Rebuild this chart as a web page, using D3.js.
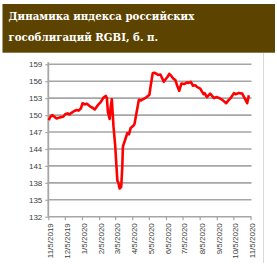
<!DOCTYPE html>
<html>
<head>
<meta charset="utf-8">
<script src="https://cdn.jsdelivr.net/npm/d3@7"></script>
<style>
  html, body { margin: 0; padding: 0; background: #fff; }
  svg { display: block; }
</style>
</head>
<body>
<div id="chart"></div>
<script>
// заголовок
const titleLines = ['Динамика индекса российских', 'гособлигаций RGBI, б. п.']

// подписи осей
const yTicks = [132, 135, 138, 141, 144, 147, 150, 153, 156, 159]
const xTicks = ['11/5/2019', '12/5/2019', '1/5/2020', '2/5/2020', '3/5/2020', '4/5/2020',
  '5/5/2020', '6/5/2020', '7/5/2020', '8/5/2020', '9/5/2020', '10/5/2020', '11/5/2020']

// значения индекса
const dates = [
  '2019-11-06', '2019-11-08', '2019-11-12', '2019-11-15', '2019-11-20', '2019-11-26',
  '2019-12-02', '2019-12-06', '2019-12-10', '2019-12-13', '2019-12-17', '2019-12-20',
  '2019-12-26', '2019-12-30', '2020-01-03', '2020-01-06', '2020-01-10', '2020-01-14',
  '2020-01-20', '2020-01-24', '2020-01-28', '2020-02-03', '2020-02-07', '2020-02-13',
  '2020-02-17', '2020-02-19', '2020-02-21', '2020-02-24', '2020-02-26', '2020-02-28',
  '2020-03-02', '2020-03-05', '2020-03-09', '2020-03-11', '2020-03-13', '2020-03-16',
  '2020-03-18', '2020-03-19', '2020-03-24', '2020-03-27', '2020-03-30', '2020-04-02',
  '2020-04-07', '2020-04-09', '2020-04-13', '2020-04-17', '2020-04-21', '2020-04-24',
  '2020-04-30', '2020-05-06', '2020-05-08', '2020-05-12', '2020-05-15', '2020-05-19',
  '2020-05-22', '2020-05-26', '2020-06-01', '2020-06-04', '2020-06-08', '2020-06-11',
  '2020-06-15', '2020-06-18', '2020-06-22', '2020-06-25', '2020-06-29', '2020-07-03',
  '2020-07-08', '2020-07-13', '2020-07-16', '2020-07-20', '2020-07-24', '2020-07-28',
  '2020-07-31', '2020-08-06', '2020-08-12', '2020-08-14', '2020-08-18', '2020-08-24',
  '2020-08-31', '2020-09-04', '2020-09-09', '2020-09-15', '2020-09-22', '2020-09-25',
  '2020-09-30', '2020-10-06', '2020-10-09', '2020-10-15', '2020-10-21', '2020-10-27',
  '2020-10-30', '2020-11-02'
]
const values = [
  149.1, 149.6, 150.0, 149.8, 149.4, 149.6,
  149.7, 150.2, 150.3, 150.1, 150.4, 150.6,
  150.9, 150.8, 151.2, 152.1, 151.9, 152.0,
  151.5, 151.3, 151.0, 151.8, 152.2, 153.1,
  153.4, 153.0, 150.5, 149.3, 151.5, 152.8,
  148.0, 144.7, 138.4, 138.0, 137.0, 137.3,
  140.9, 144.4, 145.9, 146.8, 146.6, 147.7,
  148.1, 148.4, 150.6, 152.7, 152.6, 152.8,
  153.1, 153.6, 155.0, 157.4, 157.5, 157.3,
  157.1, 157.2, 155.9, 156.3, 156.8, 157.3,
  156.9, 156.5, 156.2, 155.3, 154.3, 155.6,
  155.5, 155.8, 155.7, 155.9, 155.2, 155.3,
  155.0, 154.7, 153.7, 153.9, 153.2, 153.8,
  153.0, 153.2, 153.05, 152.7, 152.1, 152.5,
  153.0, 153.9, 153.7, 153.9, 153.8, 152.7,
  152.1, 153.5
]

const width = 277
const height = 265
const parseIso = d3.timeParse('%Y-%m-%d')
const parseTick = d3.timeParse('%m/%d/%Y')

const svg = d3.select('#chart')
  .append('svg')
  .attr('width', width)
  .attr('height', height)

// коричневая плашка заголовка
svg.append('rect')
  .attr('x', 2.5)
  .attr('y', 4)
  .attr('width', 272.5)
  .attr('height', 48.7)
  .attr('fill', '#5c4300')

const title = svg.append('g')
  .selectAll('text')
  .data(titleLines)
  .enter()
  .append('text')
  .attr('x', 8.5)
  .attr('y', (d, i) => 19.5 + i * 21)
  .attr('fill', '#fff')
  .attr('font-family', '"DejaVu Serif", serif')
  .attr('font-weight', 'bold')
  .attr('font-size', 11)
  .text(d => d)
// подгоняем ширину первой строки под оригинал
const w0 = title.nodes()[0].getComputedTextLength()
title.attr('font-size', 11 * 186 / w0)

// правая серая граница
svg.append('line')
  .attr('x1', 263.5).attr('x2', 263.5)
  .attr('y1', 53).attr('y2', 263)
  .attr('stroke', '#d9d9d9')
  .attr('stroke-width', 1)

const x = d3.scaleTime()
  .domain([parseTick(xTicks[0]), parseTick(xTicks[xTicks.length - 1])])
  .range([48.3, 250.5])
const y = d3.scaleLinear()
  .domain([132, 159])
  .range([216.7, 64.3])

// сетка
svg.append('g')
  .selectAll('line')
  .data(yTicks)
  .enter()
  .append('line')
  .attr('x1', x.range()[0])
  .attr('x2', 251.5)
  .attr('y1', d => y(d))
  .attr('y2', d => y(d))
  .attr('stroke', '#a6a6a6')
  .attr('stroke-width', 1.6)

// ось Y
const yAxis = svg.append('g')
  .attr('transform', `translate(${x.range()[0]},0)`)
  .call(d3.axisLeft(y).tickValues(yTicks).tickSize(3).tickPadding(3).tickFormat(d3.format('d')))
yAxis.select('.domain')
  .attr('stroke', '#a6a6a6')
  .attr('stroke-width', 1.8)
  .attr('d', `M0,${y(159) - 2}V${y(132)}`)
yAxis.selectAll('.tick line').attr('stroke', '#a6a6a6').attr('stroke-width', 1.2)
yAxis.selectAll('.tick text')
  .attr('font-family', '"Liberation Sans", Arial, sans-serif')
  .attr('font-size', 8)
  .attr('fill', '#404040')

// ось X
const xAxis = svg.append('g')
  .attr('transform', `translate(0,${y(132)})`)
  .call(d3.axisBottom(x).tickValues(xTicks.map(parseTick)).tickSize(3.5).tickFormat((d, i) => xTicks[i]))
xAxis.select('.domain').remove()
xAxis.selectAll('.tick line').attr('stroke', '#a6a6a6').attr('stroke-width', 1.2)
xAxis.selectAll('.tick text')
  .attr('font-family', '"Liberation Sans", Arial, sans-serif')
  .attr('font-size', 8)
  .attr('fill', '#404040')
  .attr('text-anchor', 'end')
  .attr('transform', 'rotate(-90)')
  .attr('x', -6.5)
  .attr('y', 0)
  .attr('dy', '0.55em')

// линия индекса
const line = d3.line()
  .x(d => x(d.date))
  .y(d => y(d.value))
svg.append('path')
  .datum(dates.map((d, i) => ({ date: parseIso(d), value: values[i] })))
  .attr('fill', 'none')
  .attr('stroke', '#ff0000')
  .attr('stroke-width', 2.6)
  .attr('stroke-linejoin', 'round')
  .attr('d', line)
</script>
</body>
</html>
